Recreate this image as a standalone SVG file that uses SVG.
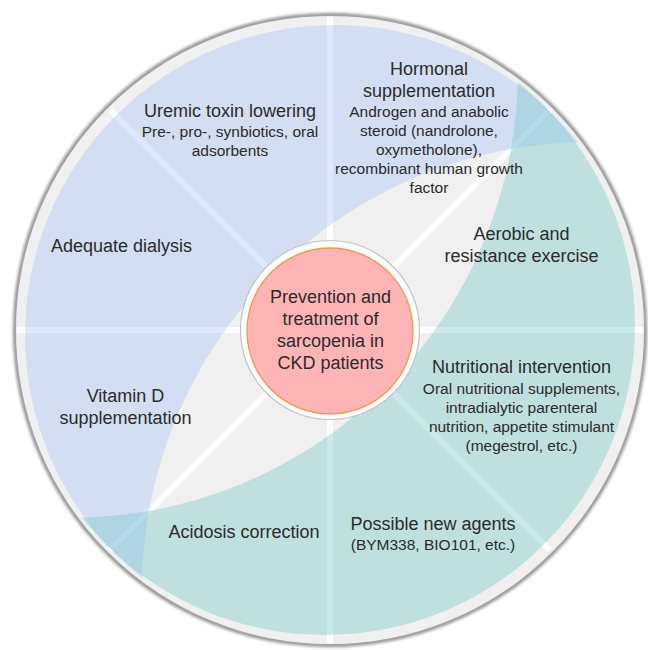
<svg xmlns="http://www.w3.org/2000/svg" width="648" height="650" viewBox="0 0 648 650">
  <style>
    text { font-family: "Liberation Sans", Arial, sans-serif; fill: #2b2b2b; text-anchor: middle; }
    .t { font-size: 18px; }
    .s { font-size: 15.5px; }
    .spoke { stroke: #ffffff; stroke-width: 6; }
  </style>
  <defs>
    <filter id="soft" x="-10%" y="-10%" width="120%" height="120%">
      <feGaussianBlur stdDeviation="1.6"/>
    </filter>
    <clipPath id="outC1">
      <path clip-rule="evenodd" d="M-20,-20 H680 V680 H-20 Z M142,590 A448,448 0 1 0 1038,590 A448,448 0 1 0 142,590 Z"/>
    </clipPath>
    <clipPath id="outC2">
      <path clip-rule="evenodd" d="M-20,-20 H680 V680 H-20 Z M-378,70 A448,448 0 1 0 518,70 A448,448 0 1 0 -378,70 Z"/>
    </clipPath>
  </defs>

  <g id="background">
    <circle cx="330" cy="330" r="315" fill="none" stroke="#8f8f8f" stroke-width="4" filter="url(#soft)"/>
    <circle cx="330" cy="330" r="314" fill="#f0f0f0"/>
  </g>

  <g id="connectors">
    <line class="spoke" x1="330" y1="241" x2="330" y2="17"/>
    <line class="spoke" x1="330" y1="419" x2="330" y2="643"/>
    <line class="spoke" x1="241" y1="330" x2="17" y2="330"/>
    <line class="spoke" x1="419" y1="330" x2="643" y2="330"/>
    <line class="spoke" x1="267" y1="267" x2="110" y2="110"/>
    <line class="spoke" x1="393" y1="267" x2="550" y2="110"/>
    <line class="spoke" x1="267" y1="393" x2="110" y2="550"/>
    <line class="spoke" x1="393" y1="393" x2="550" y2="550"/>
  </g>

  <g id="regions">
    <circle id="blue-region" cx="335" cy="335" r="310" fill="rgb(163,191,246)" fill-opacity="0.36" clip-path="url(#outC1)"/>
    <circle id="teal-region" cx="325" cy="325" r="310" fill="rgb(108,198,198)" fill-opacity="0.36" clip-path="url(#outC2)"/>
  </g>

  <g id="center">
    <circle cx="330" cy="330" r="89.5" fill="#ffffff" stroke="#c4c4c4" stroke-width="1.2"/>
    <circle cx="330" cy="331" r="83" fill="#ffb5b5" stroke="#f3964f" stroke-width="1.3"/>
    <text class="t" x="330.5" y="303">Prevention and</text>
    <text class="t" x="330.5" y="325">treatment of</text>
    <text class="t" x="330.5" y="347">sarcopenia in</text>
    <text class="t" x="330.5" y="368.5">CKD patients</text>
  </g>

  <g id="uremic">
    <text class="t" x="230" y="117">Uremic toxin lowering</text>
    <text class="s" x="230" y="137">Pre-, pro-, synbiotics, oral</text>
    <text class="s" x="230" y="155.5">adsorbents</text>
  </g>

  <g id="hormonal">
    <text class="t" x="429" y="75">Hormonal</text>
    <text class="t" x="429" y="97">supplementation</text>
    <text class="s" x="429" y="117">Androgen and anabolic</text>
    <text class="s" x="429" y="136">steroid (nandrolone,</text>
    <text class="s" x="429" y="155">oxymetholone),</text>
    <text class="s" x="429" y="174">recombinant human growth</text>
    <text class="s" x="429" y="193">factor</text>
  </g>

  <g id="dialysis">
    <text class="t" x="121.5" y="251.5">Adequate dialysis</text>
  </g>

  <g id="exercise">
    <text class="t" x="521.5" y="240">Aerobic and</text>
    <text class="t" x="521.5" y="262">resistance exercise</text>
  </g>

  <g id="vitamin-d">
    <text class="t" x="125.5" y="401.5">Vitamin D</text>
    <text class="t" x="125.5" y="423.5">supplementation</text>
  </g>

  <g id="nutrition">
    <text class="t" x="521.5" y="373">Nutritional intervention</text>
    <text class="s" x="521.5" y="393.5">Oral nutritional supplements,</text>
    <text class="s" x="521.5" y="412.5">intradialytic parenteral</text>
    <text class="s" x="521.5" y="431.5">nutrition, appetite stimulant</text>
    <text class="s" x="521.5" y="450.5">(megestrol, etc.)</text>
  </g>

  <g id="acidosis">
    <text class="t" x="244" y="537.5">Acidosis correction</text>
  </g>

  <g id="new-agents">
    <text class="t" x="433" y="529.5">Possible new agents</text>
    <text class="s" x="433" y="550">(BYM338, BIO101, etc.)</text>
  </g>
</svg>
